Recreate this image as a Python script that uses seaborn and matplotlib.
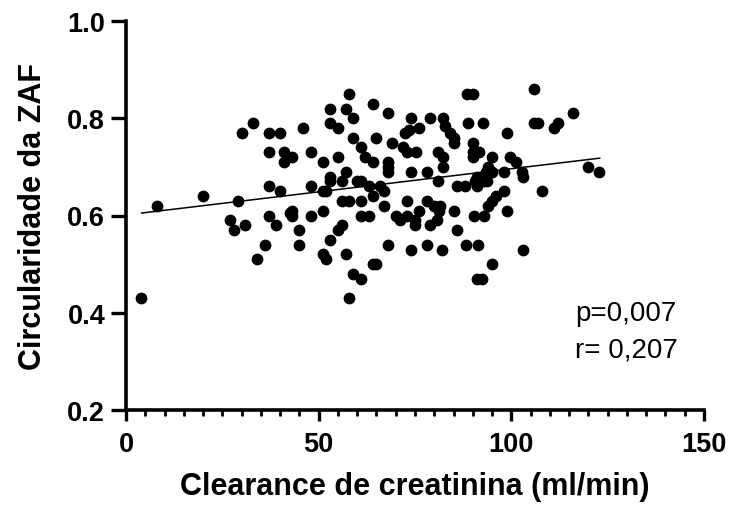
import matplotlib
matplotlib.use("Agg")
import matplotlib.pyplot as plt
import seaborn as sns
import pandas as pd
from matplotlib.ticker import MultipleLocator

# Data
clearance = [4, 8, 20, 29, 27, 28, 31, 30, 33, 37, 40, 37, 41, 41, 37, 40, 37, 39, 42.5, 36, 34,
             58, 53, 57, 64, 68, 59, 53, 55, 46, 59, 65, 69, 74, 76, 72.4, 73.5, 79, 82.3, 82.8,
             61, 62, 64, 68, 72, 73, 75.3, 81, 82.3, 48, 43, 51, 55, 57, 53, 53, 56, 60, 61, 63, 66,
             64, 67, 68, 68, 74, 78, 82.3, 81, 48, 51, 52, 56, 58, 61, 67, 73, 78, 80, 81.5,
             43, 43, 48, 51, 61, 63, 70, 71, 73, 75, 75, 76, 79, 80.6, 81.3, 45, 56, 55, 45, 53,
             68, 74, 78, 82, 51, 52, 57, 64, 65, 59, 61, 58,
             88.6, 90.1, 106, 116, 106, 107, 111, 112, 88.8, 92.7, 98.8, 84, 85, 85, 90, 90, 91.7,
             90, 95, 99.7, 101.2, 94, 93.5, 95, 98, 102.7, 103, 120, 122.8, 91, 92, 93.6, 90.5,
             108, 86, 88, 91, 93, 98, 96, 95, 94, 99, 90.3, 93, 85, 86, 88.3, 91.3, 103, 95,
             91.2, 92.4]
circularidade = [0.43, 0.62, 0.64, 0.63, 0.59, 0.57, 0.58, 0.77, 0.79, 0.77, 0.77, 0.73, 0.73, 0.71,
                 0.66, 0.65, 0.60, 0.58, 0.605, 0.54, 0.51,
                 0.85, 0.82, 0.82, 0.83, 0.81, 0.80, 0.79, 0.78, 0.78, 0.76, 0.76, 0.75, 0.80, 0.78,
                 0.77, 0.775, 0.80, 0.80, 0.785,
                 0.74, 0.72, 0.71, 0.71, 0.74, 0.73, 0.73, 0.73, 0.72, 0.73, 0.72, 0.71, 0.72, 0.69,
                 0.68, 0.67, 0.67, 0.67, 0.67, 0.66, 0.66,
                 0.64, 0.65, 0.69, 0.70, 0.69, 0.69, 0.70, 0.67, 0.66, 0.65, 0.65, 0.63, 0.63, 0.63,
                 0.62, 0.63, 0.63, 0.62, 0.62,
                 0.61, 0.60, 0.60, 0.61, 0.60, 0.60, 0.60, 0.59, 0.60, 0.59, 0.58, 0.61, 0.58, 0.59,
                 0.61, 0.57, 0.58, 0.57, 0.54, 0.55,
                 0.54, 0.53, 0.54, 0.53, 0.52, 0.51, 0.52, 0.50, 0.50, 0.48, 0.47, 0.43,
                 0.85, 0.85, 0.86, 0.81, 0.79, 0.79, 0.78, 0.79, 0.79, 0.79, 0.77, 0.77, 0.76, 0.75,
                 0.75, 0.73, 0.73,
                 0.72, 0.72, 0.72, 0.71, 0.70, 0.69, 0.69, 0.69, 0.69, 0.68, 0.70, 0.69, 0.68, 0.68,
                 0.67, 0.67,
                 0.65, 0.66, 0.66, 0.66, 0.67, 0.65, 0.64, 0.63, 0.62, 0.61, 0.60, 0.60, 0.61, 0.57,
                 0.54, 0.54, 0.53, 0.50,
                 0.47, 0.47]

fit_x = [4, 123]
fit_y = [0.605, 0.718]

x_ticks = [0, 50, 100, 150]
y_ticks = [0.2, 0.4, 0.6, 0.8, 1.0]
annotation = ["p=0,007", "r= 0,207"]

df = pd.DataFrame({"x": clearance, "y": circularidade})
fit = pd.DataFrame({"x": fit_x, "y": fit_y})

sns.set_theme(style="ticks")
plt.rcParams["font.family"] = ["Liberation Sans", "DejaVu Sans"]
plt.rcParams["text.color"] = "black"
plt.rcParams["axes.labelcolor"] = "black"
plt.rcParams["xtick.color"] = "black"
plt.rcParams["ytick.color"] = "black"

fig = plt.figure(figsize=(7.3, 5.06), dpi=100)
ax = fig.add_axes([126 / 730, 1 - 411 / 506, (704 - 126) / 730, (411 - 22) / 506])

sns.scatterplot(data=df, x="x", y="y", ax=ax, color="black", s=72, edgecolor="black",
                linewidth=0, zorder=3)
sns.lineplot(data=fit, x="x", y="y", ax=ax, color="black", linewidth=1.1, zorder=2)

ax.set_xlim(0, 150)
ax.set_ylim(0.2, 1.0)
ax.set_xticks(x_ticks)
ax.set_yticks(y_ticks)
ax.set_xticklabels([str(t) for t in x_ticks])
ax.set_yticklabels([f"{t:.1f}" for t in y_ticks])
ax.xaxis.set_minor_locator(MultipleLocator(5))

for lab in ax.get_xticklabels() + ax.get_yticklabels():
    lab.set_fontweight("bold")
    lab.set_fontsize(19.5)
    lab.set_color("black")

ax.tick_params(axis="x", which="major", length=8, width=2.4, pad=7)
ax.tick_params(axis="y", which="major", length=11, width=2.4, pad=4)
ax.tick_params(axis="x", which="minor", length=4, width=2.0)
ax.tick_params(axis="y", which="minor", length=0)

sns.despine(ax=ax)
for side in ["left", "bottom"]:
    ax.spines[side].set_linewidth(2.6)
    ax.spines[side].set_color("black")
    ax.spines[side].set_capstyle("projecting")

ax.set_xlabel("Clearance de creatinina (ml/min)", fontsize=22, fontweight="bold",
              labelpad=10, color="black")
ax.set_ylabel("Circularidade da ZAF", fontsize=22, fontweight="bold", labelpad=14,
              color="black")

ax.text(116.5, 0.386, annotation[0], fontsize=20, va="baseline", ha="left", color="black")
ax.text(116.5, 0.310, annotation[1], fontsize=20, va="baseline", ha="left", color="black")

fig.savefig("out.png", dpi=100, facecolor="white")
